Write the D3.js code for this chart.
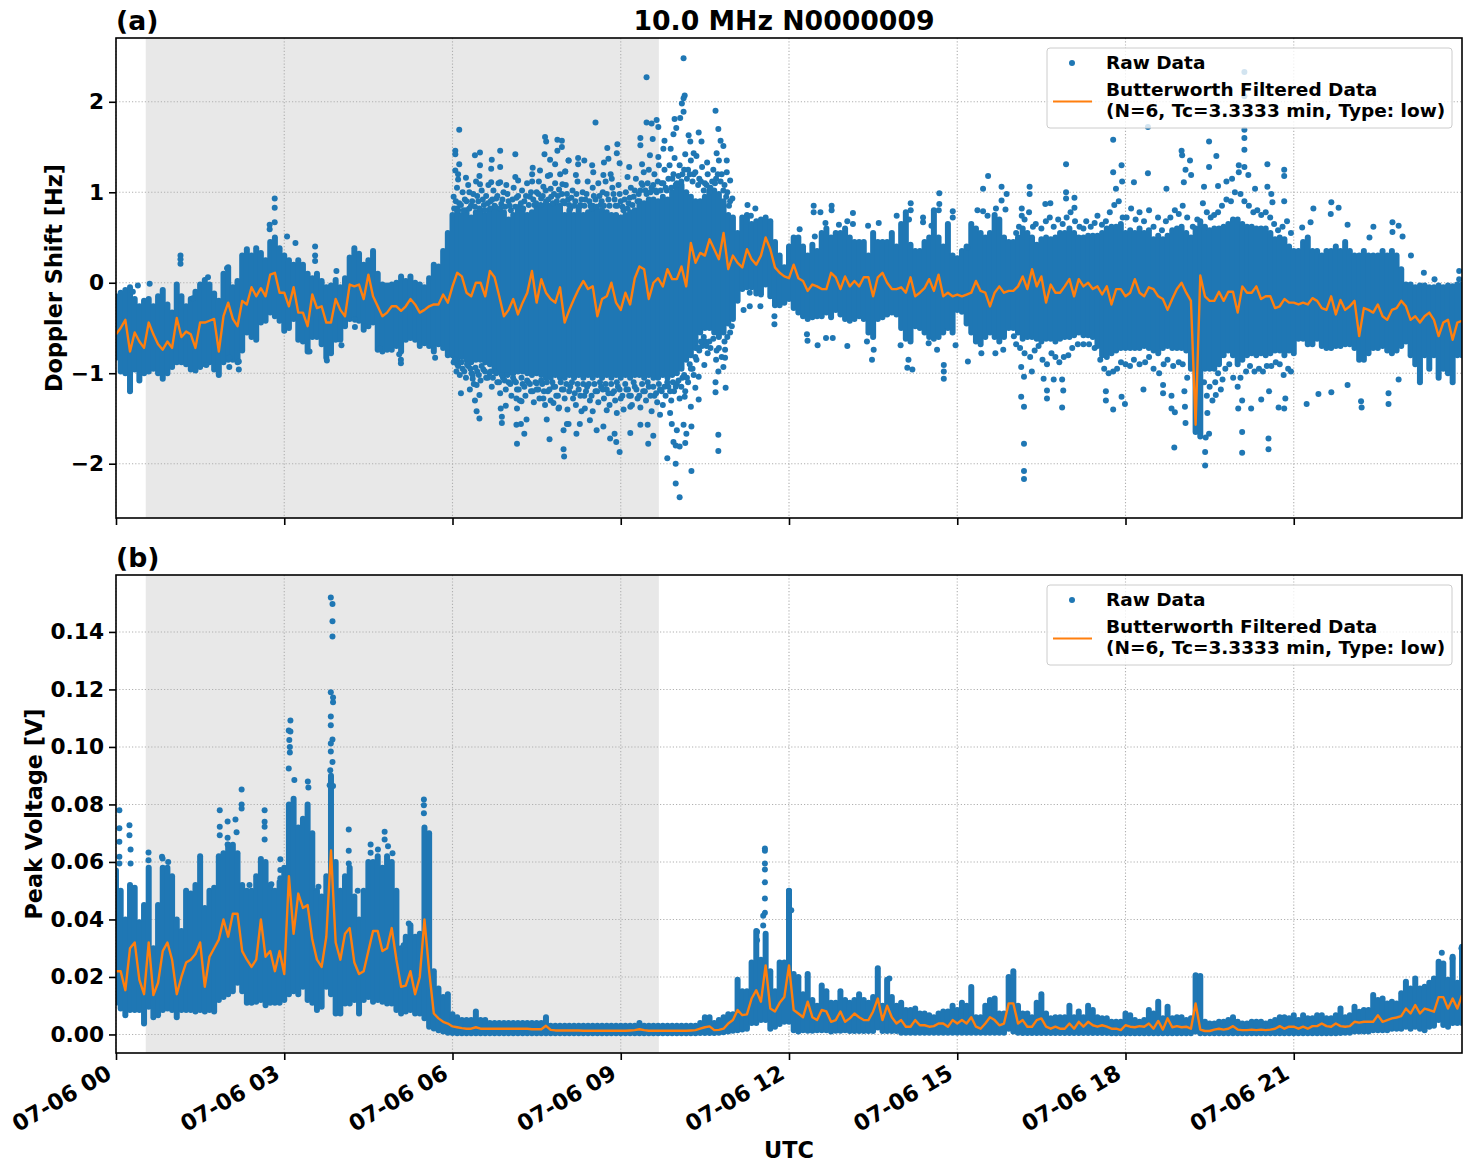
<!DOCTYPE html>
<html>
<head>
<meta charset="utf-8">
<script src="https://cdn.jsdelivr.net/npm/d3@7"></script>
<style>
  html, body { margin: 0; padding: 0; background: #fff; }
  text { font-family: "DejaVu Sans", sans-serif; font-weight: bold; fill: #000; }
</style>
</head>
<body>
<svg id="chart" width="1471" height="1172"></svg>
<script>
// Five-minute columns over the UTC day: upper and lower edge of the dense raw cloud, and the filtered trace.
const dopplerHigh = [
-.15,-.11,-.08,-.05,-.18,-.26,-.2,-.18,-.26,-.15,-.08,-.24,
-.33,-.02,-.15,-.26,-.18,-.1,-.02,.03,-.02,-.12,-.2,.1,
.17,-.05,.02,.3,.37,.3,.38,.33,.25,.45,.5,.38,
.3,.25,.2,.25,.2,.1,.05,.1,.02,-.05,-.03,.03,
-.05,.05,.28,.38,.32,.2,.25,.35,.1,-.02,-.03,-.02,
0,.07,.02,.07,0,-.02,-.05,.05,.2,.18,.35,.55,
.75,.82,.75,.8,.72,.78,.8,.75,.8,.85,.8,.78,
.7,.75,.8,.82,.75,.78,.85,.85,.88,.85,.85,.85,
.75,.8,.75,.82,.75,.78,.85,.8,.8,.78,.75,.75,
.72,.75,.78,.8,.9,.88,.92,.92,.9,.95,.92,1.0,
1.05,1.08,1.0,.95,.9,.9,.95,1.05,1.02,.98,.9,.75,
.72,.55,.72,.75,.65,.68,.7,.72,.68,.45,.3,.17,
.4,.5,.5,.4,.3,.42,.35,.55,.6,.5,.55,.55,
.6,.5,.45,.45,.45,.3,.55,.45,.45,.45,.55,.4,
.65,.78,.42,.35,.35,.45,.5,.8,.5,.4,.65,.3,
.27,.35,.4,.65,.6,.55,.5,.55,.75,.7,.5,.45,
.45,.5,.6,.55,.5,.42,.48,.5,.48,.5,.55,.55,
.6,.55,.5,.5,.52,.52,.52,.55,.6,.62,.62,.65,
.55,.58,.55,.6,.55,.58,.48,.52,.48,.52,.58,.6,
.62,.55,.5,.6,.68,.62,.58,.6,.6,.62,.65,.7,
.7,.65,.62,.62,.6,.6,.6,.55,.48,.5,.48,.4,
.35,.35,.45,.5,.35,.35,.3,.35,.35,.4,.35,.45,
.35,.3,.3,.35,.3,.3,.3,.35,.3,.35,.3,.15,
-.02,-.02,-.05,-.03,-.03,-.05,-.05,-.03,-.05,-.03,-.04,-.02,-.02];

const dopplerLow = [
-.83,-.98,-1.0,-1.2,-.96,-1.08,-1.0,-.98,-.95,-1.0,-1.06,-1.0,
-.93,-.88,-.88,-.9,-.96,-.97,-.93,-.9,-.88,-.96,-1.02,-.88,
-.85,-.85,-.88,-.75,-.55,-.6,-.63,-.44,-.42,-.33,-.37,-.42,
-.53,-.5,-.4,-.63,-.65,-.76,-.6,-.6,-.68,-.83,-.78,-.63,
-.63,-.48,-.4,-.37,-.42,-.52,-.48,-.44,-.74,-.76,-.74,-.74,
-.7,-.76,-.63,-.61,-.63,-.7,-.67,-.7,-.76,-.68,-.72,-.8,
-.8,-.9,-.82,-.85,-.88,-.85,-.85,-.88,-.9,-.95,-.98,-1.0,
-1.0,-1.0,-.98,-.98,-1.0,-1.02,-1.0,-1.02,-1.05,-1.05,-1.02,-1.05,
-1.05,-1.02,-1.05,-1.02,-1.05,-1.02,-1.05,-1.02,-1.05,-1.02,-1.05,-1.02,
-1.05,-1.02,-1.05,-1.02,-1.02,-1.05,-1.02,-1.05,-1.05,-1.02,-1.05,-1.02,
-1.0,-.95,-.85,-.8,-.72,-.55,-.5,-.5,-.55,-.6,-.55,-.45,
-.4,-.2,-.07,-.05,-.05,-.12,-.13,-.02,-.15,-.25,-.25,-.22,
-.18,-.28,-.33,-.37,-.4,-.38,-.37,-.37,-.33,-.38,-.3,-.35,
-.4,-.42,-.4,-.37,-.4,-.55,-.6,-.4,-.38,-.35,-.33,-.35,
-.5,-.62,-.65,-.48,-.5,-.55,-.6,-.62,-.6,-.55,-.5,-.55,
-.3,-.32,-.45,-.55,-.65,-.68,-.6,-.55,-.6,-.65,-.6,-.5,
-.5,-.55,-.62,-.6,-.6,-.62,-.65,-.62,-.62,-.65,-.62,-.6,
-.6,-.58,-.55,-.58,-.58,-.6,-.7,-.8,-.82,-.78,-.75,-.72,
-.72,-.72,-.72,-.72,-.7,-.72,-.75,-.78,-.72,-.7,-.72,-.72,
-.72,-.75,-.95,-1.65,-1.7,-.95,-.95,-.95,-.9,-.8,-.75,-.8,
-.9,-.85,-.8,-.78,-.8,-.78,-.8,-.78,-.75,-.75,-.8,-.75,
-.78,-.62,-.62,-.68,-.68,-.62,-.7,-.72,-.72,-.7,-.7,-.68,
-.68,-.72,-.85,-.85,-.78,-.72,-.72,-.7,-.75,-.78,-.75,-.7,
-.65,-.8,-.9,-1.1,-.8,-.95,-.8,-1.05,-.95,-1.0,-1.1,-.8,-.8];

const dopplerFiltered = [
-.57,-.5,-.41,-.76,-.55,-.65,-.72,-.44,-.57,-.68,-.74,-.65,
-.72,-.39,-.6,-.54,-.57,-.72,-.44,-.44,-.42,-.4,-.76,-.37,
-.22,-.4,-.48,-.2,-.24,-.05,-.15,-.06,-.15,.09,.11,-.11,
-.11,-.26,-.05,-.33,-.33,-.48,-.13,-.28,-.26,-.44,-.44,-.18,
-.3,-.37,-.02,-.04,-.02,-.18,.09,-.15,-.26,-.37,-.33,-.26,
-.26,-.31,-.26,-.18,-.24,-.33,-.3,-.26,-.24,-.24,-.13,-.22,
-.04,.11,.07,-.11,-.15,0,0,-.15,.13,.06,-.15,-.37,
-.3,-.18,-.35,-.22,-.11,.13,-.22,.04,-.11,-.18,-.22,-.05,
-.44,-.3,-.18,-.07,.02,-.07,-.04,-.37,-.18,-.15,0,-.22,
-.3,-.11,-.24,.05,.18,.15,-.18,0,.05,-.04,.15,.04,
.04,.18,-.04,.44,.22,.33,.3,.48,.37,.26,.55,.15,
.3,.22,.17,.37,.26,.2,.3,.5,.37,.17,.11,.07,
.05,.2,.05,.02,-.09,-.02,-.04,-.07,-.07,.11,.06,-.07,
.07,-.04,.02,-.04,.06,.06,-.15,.06,.11,0,-.07,-.07,
-.05,-.11,.06,-.15,-.11,-.06,.04,-.09,.09,-.15,-.11,-.15,
-.13,-.15,-.13,-.11,.02,-.09,-.11,-.26,-.11,-.04,-.11,-.09,
-.09,-.04,.07,-.07,.15,-.04,.07,-.22,-.02,-.11,-.11,-.04,
.04,-.15,.04,-.04,0,-.07,-.04,-.13,-.04,-.24,-.07,-.07,
-.15,-.11,.04,-.11,-.15,-.05,-.07,-.15,-.18,-.3,-.18,-.07,
0,-.11,-.2,-1.57,.08,-.15,-.2,-.2,-.1,-.2,-.1,-.1,
-.33,-.04,-.11,-.11,-.04,-.18,-.15,-.15,-.28,-.26,-.18,-.22,
-.22,-.24,-.22,-.24,-.17,-.2,-.28,-.3,-.15,-.35,-.19,-.3,
-.26,-.2,-.59,-.28,-.3,-.33,-.24,-.37,-.41,-.3,-.28,-.2,
-.26,-.41,-.37,-.44,-.37,-.33,-.41,-.59,-.44,-.41,-.63,-.44,-.42];

// Scattered samples outside the dense cloud, as [hour, shift].
const dopplerStray = [
[.3,-.1],[.39,-.03],[.6,-.01],[1.15,.3],[1.15,.26],[1.15,.21],[1.37,-.17],[1.64,.06],[1.98,.16],[2.83,.93],[2.83,.83],[2.83,.67],[2.74,.64],[2.74,.59],[3.05,.51],[3.2,.44],[3.55,.4],[3.55,.3],[3.55,.24],[3.93,.13],[4.26,-.41],[4.26,-.49],[4.43,-.48],[4.7,-.73],[5.05,-.79],[5.08,-.85],[5.08,-.89],[5.69,-.83],[3.76,-.86],[4.02,-.69],[3.45,-.76],[2.02,-.83],[2.02,-.93],[2.19,-.96],[2.19,-.87],[1.61,-.91],
[6.12,1.69],[6.05,1.46],[6.05,1.42],[6.12,1.31],[6.05,1.24],[6.1,1.2],[6.1,1.14],[6.24,1.16],[6.4,1.41],[6.49,1.44],[6.49,1.3],[6.48,1.18],[6.49,1.09],[6.7,1.36],[6.69,1.26],[6.85,1.46],[6.85,1.28],[7.12,1.42],[7.12,1.17],[7.17,1.13],[7.65,1.61],[7.67,1.56],[7.64,1.42],[7.87,1.58],[7.95,1.57],[7.95,1.5],[7.87,1.46],[7.74,1.36],[7.83,1.31],[8.07,1.35],[7.43,1.27],[7.42,1.2],[7.56,1.24],[7.74,1.19],[8.01,1.23],[7.96,1.09],[6.3,1.0],[6.69,1.11],[6.85,1.11],
[6.02,.95],[6.08,1.05],[6.12,.88],[6.18,1.0],[6.22,.92],[6.28,1.08],[6.33,.85],[6.37,.98],[6.42,1.12],[6.46,.9],[6.52,1.02],[6.56,.86],[6.6,.96],[6.64,1.08],[6.68,.9],[6.73,1.02],[6.78,.93],[6.82,1.1],[6.87,.87],[6.91,1.0],[6.96,1.08],[7.0,.9],[7.04,.8],[7.09,1.05],[7.14,.94],[7.19,.84],[7.24,1.02],[7.28,.9],[7.33,1.1],[7.38,.95],[7.42,1.12],[7.46,.86],[7.5,1.0],[7.54,1.12],[7.58,.93],[7.62,1.06],[7.67,.9],[7.7,1.18],[7.75,1.04],[7.79,.88],[7.83,1.1],[7.88,.96],[7.92,1.2],[7.97,.9],[8.02,1.08],[8.06,.92],[8.1,.82],[8.14,1.02],[8.19,.9],[8.23,1.12],[8.28,.86],[8.32,1.0],[8.37,.92],[8.41,1.12],[8.46,.85],[8.5,1.05],[8.55,.92],[8.6,1.1],[8.64,.86],[8.68,1.0],[8.73,1.12],[8.78,.92],[8.82,1.2],[8.87,.98],[8.91,.85],[8.96,1.08],[9.0,.9],[9.05,.8],[9.09,1.0],[9.14,.88],[9.18,1.05],[9.23,.95],[9.27,1.15],[9.32,.98],[9.37,1.1],[9.41,1.22],[9.46,.98],[9.5,1.25],[9.55,1.05],[9.6,1.2],[9.64,1.0],[9.68,1.3],[9.73,1.1],[9.78,1.25],[9.82,1.02],[9.87,1.3],[9.92,1.15],[9.96,1.38],[10.0,1.1],[10.05,1.3],[10.1,1.2],[10.15,1.42],[10.2,1.25],[10.25,1.35],[10.3,1.2],[10.35,1.4],[10.4,1.15],[10.45,1.28],[10.5,1.1],[10.55,1.2],[10.6,1.05],[10.65,1.25],[10.7,1.15],[10.75,1.35],[10.8,1.2],[10.85,1.08],[10.9,1.0],[10.95,.9],
[6.03,.82],[6.06,.9],[6.1,.8],[6.15,.86],[6.2,.8],[6.25,.9],[6.3,.82],[6.35,.9],[6.4,.84],[6.44,.96],[6.48,.82],[6.54,.92],[6.58,.8],[6.63,.88],[6.67,.82],[6.71,.92],[6.76,.84],[6.8,.96],[6.85,.82],[6.89,.92],[6.94,.84],[6.98,.98],[7.02,.85],[7.07,.92],[7.12,.84],[7.17,.96],[7.22,.88],[7.26,.82],[7.31,.96],[7.36,.86],[7.4,1.0],[7.44,.92],[7.49,.88],[7.53,.98],[7.57,.86],[7.61,.96],[7.66,1.02],[7.71,.92],[7.76,.95],[7.81,.98],[7.86,.9],[7.9,1.03],[7.95,.98],[8.0,.88],[8.04,.98],[8.08,.86],[8.12,.94],[8.17,.85],[8.21,.98],[8.26,.84],[8.3,.92],[8.35,.85],[8.39,.98],[8.44,.9],[8.48,.82],[8.52,.96],[8.57,.84],[8.62,.96],[8.66,.9],[8.7,.85],[8.75,.98],[8.8,.85],[8.85,1.05],[8.89,.92],[8.94,.85],[8.98,.98],[9.03,.84],[9.07,.92],[9.12,.82],[9.16,.94],[9.21,.86],[9.25,1.02],[9.3,.9],[9.35,1.02],[9.39,1.08],[9.44,1.02],[9.48,1.1],[9.53,1.0],[9.58,1.08],[9.62,1.02],[9.66,1.12],[9.71,1.02],[9.76,1.1],[9.8,1.05],[9.85,1.15],[9.9,1.05],[9.94,1.2],[9.98,1.08],[10.03,1.18],[10.08,1.12],[10.13,1.25],[10.18,1.15],[10.23,1.2],[10.28,1.12],[10.33,1.22],[10.38,1.08],[10.43,1.12],[10.48,1.02],[10.53,1.08],[10.58,1.0],[10.63,1.12],[10.68,1.1],[10.73,1.2],[10.78,1.12],[10.83,1.02],[10.88,.95],[10.93,.85],
[6.02,-.88],[6.07,-.98],[6.13,-1.02],[6.18,-.95],[6.24,-1.05],[6.28,-.92],[6.34,-1.0],[6.38,-1.12],[6.44,-.98],[6.5,-1.08],[6.55,-.96],[6.6,-1.05],[6.66,-1.0],[6.7,-1.15],[6.75,-.98],[6.8,-1.1],[6.85,-1.22],[6.9,-1.05],[6.95,-1.18],[7.0,-1.1],[7.05,-1.25],[7.1,-1.08],[7.15,-1.18],[7.2,-1.3],[7.25,-1.12],[7.3,-1.25],[7.35,-1.1],[7.4,-1.2],[7.45,-1.32],[7.5,-1.18],[7.55,-1.28],[7.6,-1.12],[7.65,-1.35],[7.7,-1.2],[7.75,-1.3],[7.8,-1.15],[7.85,-1.25],[7.9,-1.38],[7.95,-1.18],[8.0,-1.28],[8.05,-1.4],[8.1,-1.15],[8.15,-1.28],[8.2,-1.35],[8.25,-1.18],[8.3,-1.42],[8.35,-1.25],[8.4,-1.15],[8.45,-1.3],[8.5,-1.42],[8.55,-1.2],[8.6,-1.32],[8.65,-1.15],[8.7,-1.28],[8.75,-1.18],[8.8,-1.35],[8.85,-1.22],[8.9,-1.3],[8.95,-1.15],[9.0,-1.28],[9.05,-1.4],[9.1,-1.18],[9.15,-1.25],[9.2,-1.35],[9.25,-1.15],[9.3,-1.28],[9.35,-1.38],[9.4,-1.2],[9.45,-1.3],[9.5,-1.15],[9.55,-1.42],[9.6,-1.25],[9.65,-1.32],[9.7,-1.18],[9.75,-1.35],[9.8,-1.25],[9.85,-1.15],[9.9,-1.3],[9.95,-1.2],[10,-1.12],[10.05,-1.28],[10.1,-1.05],[10.15,-1.2],[10.2,-1.1],[10.25,-.95],[10.3,-1.02],[10.35,-.85],[10.4,-.75],[10.45,-.7],[10.5,-.65],[10.55,-.78],[10.6,-.72],[10.65,-.62],[10.7,-.85],[10.75,-.72],[10.8,-.82],[10.85,-.65],[10.9,-.6],[10.95,-.55],
[6.04,-.85],[6.1,-.92],[6.16,-.88],[6.21,-.98],[6.26,-.9],[6.32,-.95],[6.36,-1.02],[6.41,-.94],[6.47,-1.02],[6.52,-.92],[6.58,-.98],[6.63,-1.05],[6.68,-.98],[6.72,-1.05],[6.78,-1.0],[6.83,-1.1],[6.88,-1.02],[6.93,-1.08],[6.98,-1.02],[7.03,-1.12],[7.08,-1.05],[7.13,-1.1],[7.18,-1.18],[7.23,-1.05],[7.28,-1.15],[7.33,-1.08],[7.38,-1.12],[7.43,-1.2],[7.48,-1.1],[7.53,-1.18],[7.58,-1.08],[7.63,-1.2],[7.68,-1.1],[7.73,-1.18],[7.78,-1.1],[7.83,-1.15],[7.88,-1.25],[7.93,-1.1],[7.98,-1.18],[8.03,-1.12],[8.08,-1.2],[8.13,-1.1],[8.18,-1.22],[8.23,-1.12],[8.28,-1.25],[8.33,-1.12],[8.38,-1.2],[8.43,-1.12],[8.48,-1.25],[8.53,-1.12],[8.58,-1.2],[8.63,-1.1],[8.68,-1.18],[8.73,-1.12],[8.78,-1.22],[8.83,-1.12],[8.88,-1.2],[8.93,-1.1],[8.98,-1.18],[9.03,-1.25],[9.08,-1.12],[9.13,-1.18],[9.18,-1.25],[9.23,-1.1],[9.28,-1.18],[9.33,-1.25],[9.38,-1.12],[9.43,-1.2],[9.48,-1.1],[9.53,-1.25],[9.58,-1.15],[9.63,-1.22],[9.68,-1.12],[9.73,-1.2],[9.78,-1.15],[9.83,-1.1],[9.88,-1.2],[9.93,-1.1],[9.98,-1.15],[10.03,-1.08],[10.08,-1.15],[10.13,-1.02],[10.18,-1.05],[10.23,-.9],[10.28,-.95],[10.33,-.82],[10.38,-.72],[10.43,-.65],[10.48,-.6],[10.53,-.7],[10.58,-.65],
[6.15,-1.22],[6.31,-1.18],[6.43,-1.13],[6.36,-1.06],[6.4,-1.3],[6.48,-1.24],[6.43,-1.42],[6.48,-1.5],[6.86,-1.39],[6.88,-1.48],[6.88,-1.55],[6.95,-1.36],[7.15,-1.39],[7.15,-1.78],[7.14,-1.57],[7.22,-1.56],[7.32,-1.51],[7.28,-1.67],[7.14,-1.28],[7.23,-1.31],[7.68,-1.51],[7.73,-1.73],[7.98,-1.63],[7.98,-1.84],[7.99,-1.92],[7.89,-1.39],[8.04,-1.56],[7.62,-1.28],[7.8,-1.33],[7.5,-1.11],
[8.55,1.77],[9.46,2.27],[10.12,2.48],[10.14,2.07],[10.12,2.04],[10.09,1.98],[10.12,1.89],[10.06,1.82],[9.96,1.81],[10.69,1.9],[10.74,1.7],[10.78,1.57],[9.64,1.8],[9.55,1.76],[9.67,1.72],[9.46,1.77],[9.99,1.71],[9.35,1.6],[9.35,1.52],[9.57,1.59],[9.78,1.57],[9.94,1.64],[10.21,1.63],[10.39,1.66],[10.44,1.56],[10.24,1.56],[8.76,1.49],[8.94,1.53],[8.93,1.43],[8.78,1.37],[8.24,1.38],[8.07,1.35],[8.35,1.35],[8.49,1.3],[8.24,1.31],[8.7,1.33],[8.98,1.32],[9.15,1.28],[8.01,1.23],[8.2,1.19],[8.51,1.22],[8.69,1.19],[8.84,1.15],[9.12,1.17],[9.38,1.31],[9.52,1.41],[9.67,1.39],[9.76,1.48],[9.89,1.48],[10.3,1.43],[10.54,1.33],[10.71,1.43],[10.83,1.51],[10.89,1.35],[10.89,1.22],[10.95,1.13],[10.99,.93],
[8.98,-1.87],[9.49,-1.78],[8.81,-1.72],[8.92,-1.76],[9.17,-1.66],[9.58,-1.69],[8.21,-1.67],[8.57,-1.63],[8.89,-1.67],[9.35,-1.57],[9.48,-1.57],[8.69,-1.59],[8.27,-1.56],[8.07,-1.56],[8.45,-1.52],[8.93,-1.44],[9.7,-1.46],[8.36,-1.39],[9.17,-1.37],[8.75,-1.41],
[9.83,-1.94],[9.98,-2.0],[10.26,-2.08],[9.98,-2.22],[10.05,-2.37],[10.74,-1.68],[10.74,-1.86],[10.15,-1.77],[9.98,-1.8],[10.05,-1.81],[9.91,-1.56],[10,-1.63],[10.12,-1.57],[10.26,-1.59],[10.17,-1.67],[9.94,-1.76],[9.88,-1.44],[10.25,-1.37],[10.39,-1.29],[10.33,-1.16],[10.14,-1.26],[10.69,-1.1],[10.69,-1.21],[10.87,-1.16],[10.39,-1.04],[10.49,-.91],[10.74,-.98],[10.83,-.93],[10.86,-.83],[10.71,-.75],[10.86,-.74],[10.98,-.48],[11.19,-.3],[11.3,-.11],[11.3,-.26],[11.49,-.26],[11.74,-.46],[11.74,-.37],
[11.26,.86],[11.4,.82],[11.32,.74],[12.44,.85],[12.44,.78],[12.56,.78],[12.76,.85],[12.76,.8],[13.14,.77],[12.19,.59],[13.14,.65],[13.04,.68],[12.46,.51],[12.65,.66],[12.89,.64],[13.41,.63],[13.6,.66],[13.92,.74],[14.17,.88],[14.17,.8],[14.14,.7],[14.39,.72],[14.39,.67],[14.54,.63],[14.68,.99],[14.68,.87],[14.67,.8],[14.92,.79],[14.92,.72],[15.55,1.18],[15.46,1.04],[15.79,1.06],[15.88,.98],[15.79,.91],[15.69,.82],[15.86,.81],[15.36,.8],[15.46,.79],[15.54,.74],[15.19,.39],
[12.32,-.57],[12.33,-.64],[12.51,-.69],[12.66,-.61],[12.78,-.61],[13.04,-.7],[13.48,-.85],[13.51,-.74],[13.39,-.65],[13.99,-.69],[14.11,-.94],[14.2,-.96],[14.13,-.85],[14.76,-.91],[14.76,-1.06],[14.76,-.98],[15.19,-.87],[14.64,-.74],[14.97,-.69],[15.43,-.78],[15.68,-.78],[15.82,-.74],[16.01,-.59],[14.49,-.67],
[16.94,1.31],[17.78,1.58],[17.93,1.3],[17.78,1.22],[18.4,1.72],[18.4,1.21],[18.15,1.11],[17.94,1.12],[17.83,1.04],[18.73,1.04],[19,1.46],[19.01,1.41],[19.15,1.35],[19.49,1.56],[19.62,1.4],[19.49,1.28],[19.07,1.25],[19.17,1.19],[20.12,2.33],[20.12,2.06],[20.12,1.69],[20.12,1.6],[20.12,1.47],[20.02,1.3],[20.12,1.28],[20.53,1.31],[20.83,1.25],[20.83,1.18],[20.53,1.06],[20.83,.9],[20.02,1.22],[20.19,1.19],[16.29,1.06],[16.29,.98],[16.94,1],[16.94,.93],[17.09,.94],[17.09,.83],[16.57,.87],[16.66,.88],[16.15,.82],[16.15,.74],[19.65,1.07],[19.8,1.12],[19.9,1.15],[19.4,1.06],[19.04,1.11],[20.31,1.04],[20.6,.98],[20.62,.89],[21.67,.89],[21.8,.83],[21.35,.82],[21.3,.67],[21.96,.64],[22.42,.62],[22.76,.67],[22.87,.63],[22.76,.56],[22.94,.51],[22.35,.5],[23.09,.3],[23.32,.11],[23.51,.04],[23.95,.13],[23.95,.04],[21.66,.76],[21.15,.61],
[16.05,.55],[16.1,.62],[16.2,.7],[16.28,.78],[16.35,.62],[16.4,.65],[16.5,.6],[16.58,.68],[16.65,.72],[16.72,.62],[16.8,.7],[16.88,.65],[16.95,.72],[17.02,.78],[17.1,.68],[17.18,.62],[17.25,.6],[17.3,.68],[17.38,.62],[17.45,.66],[17.5,.74],[17.58,.64],[17.65,.68],[17.72,.78],[17.8,.86],[17.88,.9],[17.95,.72],[18.02,.72],[18.1,.82],[18.18,.7],[18.25,.78],[18.33,.68],[18.42,.8],[18.5,.62],[18.58,.72],[18.65,.58],[18.72,.68],[18.8,.72],[18.88,.8],[18.95,.76],[19.02,.85],[19.1,.72],[19.2,.62],[19.28,.7],[19.38,.88],[19.45,.78],[19.52,.72],[19.58,.75],[19.65,.78],[19.72,.85],[19.8,.92],[19.88,.9],[19.95,1.0],[20.05,.98],[20.12,.9],[20.2,.85],[20.28,.78],[20.35,.8],[20.42,.75],[20.5,.78],[20.58,.72],[20.65,.65],[20.72,.58],[20.8,.62],[20.88,.68],[20.95,.55],
[16.05,-.68],[16.12,-.72],[16.2,-.78],[16.3,-.82],[16.38,-.75],[16.45,-.7],[16.52,-.85],[16.6,-.9],[16.68,-.78],[16.75,-.82],[16.82,-.88],[16.9,-.82],[16.98,-.8],[17.05,-.72],[17.15,-.68],[17.25,-.68],[17.35,-.68],[17.45,-.72],[17.55,-.85],[17.62,-.95],[17.7,-1.0],[17.78,-.98],[17.85,-.95],[17.92,-.88],[18,-.9],[18.08,-.92],[18.15,-.85],[18.25,-.9],[18.35,-.88],[18.42,-.82],[18.5,-.95],[18.6,-1.0],[18.68,-.9],[18.75,-.85],[18.85,-.92],[18.95,-.88],[19.02,-.9],[19.1,-1.05],[19.4,-1.1],[19.45,-1.25],[19.5,-1.15],[19.55,-1.3],[19.6,-1.1],[19.65,-1.0],[19.7,-1.18],[19.78,-.95],[19.85,-.9],[19.92,-1.05],[20,-1.15],[20.05,-1.05],[20.15,-.98],[20.22,-.92],[20.3,-.98],[20.38,-.95],[20.45,-.98],[20.52,-.92],[20.6,-.92],[20.68,-.88],[20.75,-.9],[20.82,-1.02],[20.9,-.95],[20.95,-.98],
[16.19,-1.78],[16.19,-2.08],[16.19,-2.17],[16.19,-1.37],[16.14,-1.26],[16.19,-1.04],[16.14,-.93],[16.33,-.98],[16.6,-1.28],[16.6,-1.19],[16.87,-1.38],[16.89,-1.19],[16.87,-1.07],[16.54,-1.06],[16.72,-1.07],[17.65,-1.3],[17.65,-1.2],[17.78,-1.4],[17.93,-1.26],[17.99,-1.34],[18.32,-1.18],[18.67,-1.13],[18.67,-1.22],[18.82,-1.25],[18.82,-1.39],[18.88,-1.43],[19.06,-1.37],[19.07,-1.55],[18.87,-1.82],[19.05,-1.2],[19.42,-1.87],[19.42,-2.02],[19.49,-1.67],[19.43,-1.71],[20.08,-1.65],[20.08,-1.88],[20.55,-1.72],[20.55,-1.84],[20.08,-1.3],[20.01,-1.39],[20.24,-1.39],[20.42,-1.29],[20.73,-1.38],[20.83,-1.39],[20.85,-1.28],[21.23,-1.34],[21.44,-1.23],[21.67,-1.21],[21.96,-1.13],[22.2,-1.31],[22.21,-1.38],[22.69,-1.34],[22.69,-1.22],[22.87,-1.07],[20.56,-1.2],[19.46,-1.44],[19.61,-1.24],[19.73,-1.07]];

const voltageHigh = [
.057,.05,.04,.052,.051,.039,.045,.058,.03,.045,.058,.058,
.055,.04,.036,.05,.049,.052,.062,.044,.05,.051,.062,.063,
.066,.066,.063,.052,.05,.05,.055,.061,.06,.052,.05,.053,
.058,.08,.082,.072,.075,.08,.07,.05,.048,.055,.09,.06,
.05,.055,.058,.048,.04,.05,.06,.06,.062,.058,.062,.06,
.05,.03,.034,.038,.034,.035,.072,.07,.022,.016,.013,.014,
.007,.006,.005,.005,.005,.008,.005,.005,.004,.004,.004,.004,
.004,.004,.004,.004,.004,.004,.004,.004,.006,.003,.003,.003,
.003,.003,.003,.003,.003,.003,.003,.003,.003,.003,.003,.003,
.003,.003,.003,.003,.004,.003,.003,.003,.003,.003,.003,.003,
.003,.003,.003,.003,.003,.004,.006,.006,.004,.005,.006,.007,
.007,.019,.015,.015,.025,.036,.026,.035,.022,.015,.025,.025,
.05,.021,.02,.014,.021,.012,.01,.017,.015,.011,.011,.015,
.012,.011,.012,.014,.012,.011,.013,.023,.01,.019,.013,.01,
.011,.0085,.0085,.009,.0073,.0073,.0067,.006,.0073,.008,.008,.01,
.0085,.011,.01,.0165,.006,.006,.01,.012,.0125,.0073,.0073,.02,
.022,.01,.0073,.0073,.006,.011,.014,.0073,.0056,.006,.006,.006,
.01,.006,.008,.006,.01,.0085,.006,.0056,.0056,.0044,.0044,.0044,
.0073,.0067,.005,.0044,.005,.0085,.0073,.0114,.0056,.0096,.0056,.006,
.006,.005,.0056,.0206,.0203,.0044,.0038,.0038,.0044,.0044,.005,.006,
.0044,.0038,.0038,.0044,.0044,.0044,.0038,.0044,.005,.006,.006,.0056,
.0067,.005,.0067,.0056,.0056,.0067,.0067,.0056,.0056,.0067,.009,.006,
.0067,.0096,.0079,.0085,.0085,.0137,.012,.0125,.0108,.0114,.0108,.0143,
.0183,.016,.0195,.016,.0166,.018,.0195,.0253,.0247,.019,.027,.018,.0305];

const voltageLow = [
.011,.009,.0067,.0085,.0085,.0085,.0038,.0096,.006,.0067,.0085,.009,
.0085,.006,.0085,.0085,.0085,.008,.0085,.008,.0085,.008,.012,.013,
.014,.015,.018,.015,.011,.011,.0114,.012,.0102,.011,.011,.011,
.012,.014,.015,.014,.0166,.012,.011,.0085,.0096,.0166,.014,.0073,
.0073,.0108,.0108,.012,.0073,.012,.013,.0114,.012,.0114,.0108,.0108,
.0085,.0073,.008,.0085,.0073,.0073,.0056,.0027,.0021,.0015,.001,.0006,
.0005,.0004,.0004,.0004,.0004,.0004,.0004,.0004,.0004,.0004,.0004,.0004,
.0004,.0004,.0004,.0004,.0004,.0004,.0004,.0004,.0004,.0004,.0004,.0004,
.0004,.0004,.0004,.0004,.0004,.0004,.0004,.0004,.0004,.0004,.0004,.0004,
.0004,.0004,.0004,.0004,.0004,.0004,.0004,.0004,.0004,.0004,.0004,.0004,
.0004,.0004,.0004,.0004,.0004,.0005,.0005,.0005,.0005,.0006,.0008,.001,
.0013,.0015,.0017,.002,.004,.004,.005,.005,.002,.0027,.0036,.0044,
.0044,.0015,.001,.0015,.0013,.0013,.0015,.0015,.0015,.001,.0013,.0013,
.0015,.0012,.0012,.0012,.0012,.0012,.0012,.0024,.0012,.0012,.0012,.0012,
.0006,.0006,.0006,.0006,.0006,.0006,.0006,.0006,.0006,.0006,.0006,.0006,
.0006,.0006,.0006,.0006,.0006,.0006,.0006,.0006,.0006,.0006,.0006,.002,
.001,.0006,.0005,.0005,.0005,.0005,.0005,.0005,.0005,.0005,.0005,.0005,
.0005,.0005,.0005,.0005,.0005,.0005,.0005,.0005,.0005,.0004,.0004,.0004,
.0004,.0004,.0004,.0004,.0004,.0004,.0004,.0004,.0004,.0004,.0004,.0004,
.0004,.0004,.0004,.001,.0004,.0004,.0004,.0004,.0004,.0004,.0004,.0004,
.0004,.0004,.0004,.0004,.0004,.0004,.0004,.0004,.0004,.0004,.0004,.0004,
.0004,.0004,.0004,.0004,.0004,.0004,.0004,.0004,.0004,.0004,.0005,.0006,
.0006,.001,.001,.001,.001,.0015,.0015,.0015,.0015,.002,.002,.002,
.0027,.002,.0027,.002,.0015,.0027,.003,.005,.0033,.0027,.004,.004,.004];

const voltageFiltered = [
.022,.022,.0154,.03,.032,.019,.014,.032,.0137,.018,.029,.032,
.026,.014,.02,.025,.026,.028,.032,.0166,.027,.03,.033,.04,
.034,.042,.042,.029,.026,.0235,.026,.04,.027,.029,.022,.029,
.021,.055,.035,.049,.044,.045,.033,.026,.0235,.034,.064,.032,
.026,.035,.037,.025,.021,.022,.029,.036,.036,.029,.03,.037,
.026,.0166,.017,.022,.014,.02,.04,.022,.0073,.0056,.0044,.0038,
.0028,.0025,.0022,.002,.002,.0025,.002,.002,.002,.002,.002,.002,
.002,.002,.002,.002,.002,.0018,.0018,.0018,.003,.0016,.0014,.0014,
.0014,.0014,.0014,.0014,.0013,.0013,.0013,.0013,.0013,.0013,.0013,.0013,
.0013,.0013,.0014,.0015,.0018,.0015,.0013,.0013,.0013,.0013,.0013,.0013,
.0013,.0013,.0013,.0014,.0015,.002,.0025,.0028,.0015,.0016,.002,.0038,
.005,.0085,.0067,.007,.0125,.0154,.0114,.024,.009,.008,.011,.013,
.024,.0085,.0073,.006,.0114,.006,.005,.0085,.008,.0044,.005,.008,
.0044,.0056,.0073,.006,.005,.005,.008,.0125,.005,.01,.006,.0038,
.005,.0027,.0027,.005,.0032,.0032,.0027,.0029,.0038,.0038,.0027,.005,
.0038,.005,.0038,.006,.0027,.002,.0038,.006,.005,.0032,.0038,.0108,
.0108,.0038,.005,.0027,.0027,.005,.0056,.0027,.002,.0027,.002,.002,
.0038,.002,.0044,.0027,.0044,.0032,.0027,.0032,.0027,.002,.002,.0015,
.0032,.0027,.0025,.0029,.0027,.0038,.002,.0047,.0017,.0056,.0025,.0029,
.0025,.0027,.002,.0108,.0017,.0012,.0012,.0017,.002,.0017,.002,.0029,
.0017,.0015,.0015,.0017,.0015,.0017,.0015,.0017,.002,.0029,.002,.0027,
.0027,.002,.0027,.002,.0029,.0029,.0038,.0029,.0027,.0038,.0029,.0027,
.0029,.0044,.0041,.0044,.0044,.0044,.0067,.0044,.005,.0056,.0059,.0064,
.009,.0073,.0102,.0073,.009,.0085,.0079,.013,.013,.009,.0125,.009,.0137];

// Strong isolated samples standing above the dense cloud, as [hour, volts].
const voltageStray = [
[.06,.078],[.06,.0717],[.06,.067],[.06,.0618],[.06,.0595],[.24,.0728],[.24,.0693],[.26,.0643],[.26,.0595],[.58,.0633],[.58,.0606],[.82,.0618],[.83,.0612],[.93,.06],[1.85,.078],[1.85,.0722],[1.85,.0693],[1.99,.0741],[1.99,.0684],[1.99,.0661],[2.13,.0748],[2.15,.0703],[2.24,.0852],[2.24,.08],[2.24,.0786],[2.65,.078],[2.65,.074],[2.65,.0722],[2.65,.0678],[2.93,.0609],[2.93,.0572],[2.93,.0543],[3.11,.1092],[3.08,.1057],[3.11,.1054],[3.09,.1024],[3.1,.1],[3.1,.0981],[3.08,.0925],[3.18,.0885],[3.42,.088],[3.43,.0859],
[3.83,.152],[3.86,.1497],[3.86,.1437],[3.86,.1384],[3.83,.119],[3.87,.1172],[3.87,.1155],[3.83,.1106],[3.83,.1075],[3.86,.1026],[3.83,.1012],[3.83,.0984],[3.86,.0948],[3.82,.0919],[3.81,.0867],[3.87,.0864],[4.15,.0713],[4.15,.0639],[4.15,.0595],[4.54,.0661],[4.54,.0632],[4.67,.0643],[4.79,.0705],[4.79,.0678],[4.85,.0655],[4.93,.063],[5.22,.0386],[5.49,.0817],[5.49,.0797],[5.49,.0769],[4.31,.05],[2.38,.052],[5.13,.031],[3.61,.0514],[2.77,.0522],
[11.57,.0647],[11.57,.0639],[11.57,.0595],[11.57,.0574],[11.57,.0529],[11.57,.0473],[11.54,.0413],[11.57,.0423],[11.54,.0379],[11.43,.0357],[11.43,.0328],[12,.0499],[12,.0479],[12,.045],[12.04,.0432],[13.79,.0195],[23.64,.0284],[23.83,.0264],[23.99,.03]];

// Axis labelling and the shaded interval.
const hourTicks = [0, 3, 6, 9, 12, 15, 18, 21];
const hourLabels = ["07-06 00", "07-06 03", "07-06 06", "07-06 09", "07-06 12", "07-06 15", "07-06 18", "07-06 21"];
const dopplerTicks = [-2, -1, 0, 1, 2];
const voltageTicks = [0, .02, .04, .06, .08, .1, .12, .14];
const shadedSpan = [0.53, 9.68];
const legendRows = ["Raw Data", "Butterworth Filtered Data", "(N=6, Tc=3.3333 min, Type: low)"];

const BLUE = "#1f77b4", ORANGE = "#ff7f0e";
const DOT_R = 3;
const svg = d3.select("#chart");
const x = d3.scaleLinear().domain([0, 24]).range([116, 1462]);
const hourAt = i => i / 12;

function drawPanel(cfg) {
  const { top, bottom, domain, ticks, tickFmt, high, low, filtered, stray, id } = cfg;
  const y = d3.scaleLinear().domain(domain).range([bottom, top]);
  const g = svg.append("g");

  g.append("clipPath").attr("id", id).append("rect")
    .attr("x", 116).attr("y", top).attr("width", 1346).attr("height", bottom - top);

  g.append("rect").attr("x", x(shadedSpan[0])).attr("y", top)
    .attr("width", x(shadedSpan[1]) - x(shadedSpan[0])).attr("height", bottom - top)
    .attr("fill", "#808080").attr("fill-opacity", 0.18);

  // Dotted grid
  const grid = g.append("g").attr("stroke", "#b0b0b0").attr("stroke-width", 1.1).attr("stroke-dasharray", "1.2,2");
  grid.selectAll(".gx").data(hourTicks).join("line")
    .attr("x1", d => x(d)).attr("x2", d => x(d)).attr("y1", top).attr("y2", bottom);
  grid.selectAll(".gy").data(ticks).join("line")
    .attr("x1", 116).attr("x2", 1462).attr("y1", d => y(d)).attr("y2", d => y(d));

  const marks = g.append("g").attr("clip-path", `url(#${id})`);

  // Dense raw cloud, one round-ended column per five minutes
  marks.append("g").attr("stroke", BLUE).attr("stroke-width", DOT_R * 2).attr("stroke-linecap", "round")
    .selectAll("line").data(high).join("line")
    .attr("x1", (d, i) => x(hourAt(i))).attr("x2", (d, i) => x(hourAt(i)))
    .attr("y1", d => y(d)).attr("y2", (d, i) => y(low[i]));

  marks.append("g").attr("fill", BLUE).selectAll("circle").data(stray).join("circle")
    .attr("cx", d => x(d[0])).attr("cy", d => y(d[1])).attr("r", DOT_R);

  const line = d3.line().x((d, i) => x(hourAt(i))).y(d => y(d));
  marks.append("path").attr("d", line(filtered)).attr("fill", "none")
    .attr("stroke", ORANGE).attr("stroke-width", 2.4).attr("stroke-linejoin", "round");

  // Axes
  const ax = g.append("g").attr("transform", `translate(0,${bottom})`)
    .call(d3.axisBottom(x).tickValues(hourTicks).tickSize(7).tickPadding(7)
      .tickFormat((d, i) => cfg.showDates ? hourLabels[i] : ""));
  const ay = g.append("g").attr("transform", "translate(116,0)")
    .call(d3.axisLeft(y).tickValues(ticks).tickSize(7).tickPadding(5).tickFormat(tickFmt));
  [ax, ay].forEach(a => {
    a.select(".domain").remove();
    a.selectAll("line").attr("stroke", "#000").attr("stroke-width", 1.6);
    a.selectAll("text").attr("fill", "#000");
  });
  ax.selectAll("text").attr("font-size", 22.2);
  ay.selectAll("text").attr("font-size", 21.7);
  if (cfg.showDates) {
    ax.selectAll("text").attr("text-anchor", "end").attr("dy", null).attr("y", 0)
      .attr("transform", "translate(-3.5,24.5) rotate(-30)");
  }
  g.append("rect").attr("x", 116).attr("y", top).attr("width", 1346).attr("height", bottom - top)
    .attr("fill", "none").attr("stroke", "#000").attr("stroke-width", 1.6);

  // Legend
  const lg = g.append("g").attr("transform", `translate(1047,${top + 10})`);
  lg.append("rect").attr("width", 405).attr("height", 80).attr("rx", 3)
    .attr("fill", "#fff").attr("fill-opacity", 0.8).attr("stroke", "#cccccc").attr("stroke-width", 1);
  lg.append("circle").attr("cx", 25).attr("cy", 15).attr("r", DOT_R).attr("fill", BLUE);
  lg.append("line").attr("x1", 6).attr("x2", 45).attr("y1", 53.5).attr("y2", 53.5)
    .attr("stroke", ORANGE).attr("stroke-width", 2.1);
  const rowY = [21, 48, 69];
  lg.selectAll("text").data(legendRows).join("text")
    .attr("x", 59).attr("y", (d, i) => rowY[i]).attr("font-size", 18.5).text(d => d);
}

drawPanel({ id: "clipA", top: 38, bottom: 518, domain: [-2.6, 2.705], ticks: dopplerTicks,
  tickFmt: d => d < 0 ? "\u2212" + Math.abs(d) : d, high: dopplerHigh, low: dopplerLow,
  filtered: dopplerFiltered, stray: dopplerStray, showDates: false });
drawPanel({ id: "clipB", top: 575, bottom: 1053, domain: [-0.00645, 0.1598], ticks: voltageTicks,
  tickFmt: d3.format(".2f"), high: voltageHigh, low: voltageLow,
  filtered: voltageFiltered, stray: voltageStray, showDates: true });

// Panel letters, title and axis titles
svg.append("text").attr("x", 116).attr("y", 30).attr("font-size", 26.7).text("(a)");
svg.append("text").attr("x", 116).attr("y", 567).attr("font-size", 26.7).text("(b)");
svg.append("text").attr("x", 784).attr("y", 30).attr("font-size", 26.7).attr("text-anchor", "middle").text("10.0 MHz N0000009");
svg.append("text").attr("x", 789).attr("y", 1158).attr("font-size", 22.4).attr("text-anchor", "middle").text("UTC");
svg.append("text").attr("transform", "translate(62,278) rotate(-90)").attr("font-size", 22.4).attr("text-anchor", "middle").text("Doppler Shift [Hz]");
svg.append("text").attr("transform", "translate(42,814) rotate(-90)").attr("font-size", 22.4).attr("text-anchor", "middle").text("Peak Voltage [V]");
</script>
</body>
</html>
